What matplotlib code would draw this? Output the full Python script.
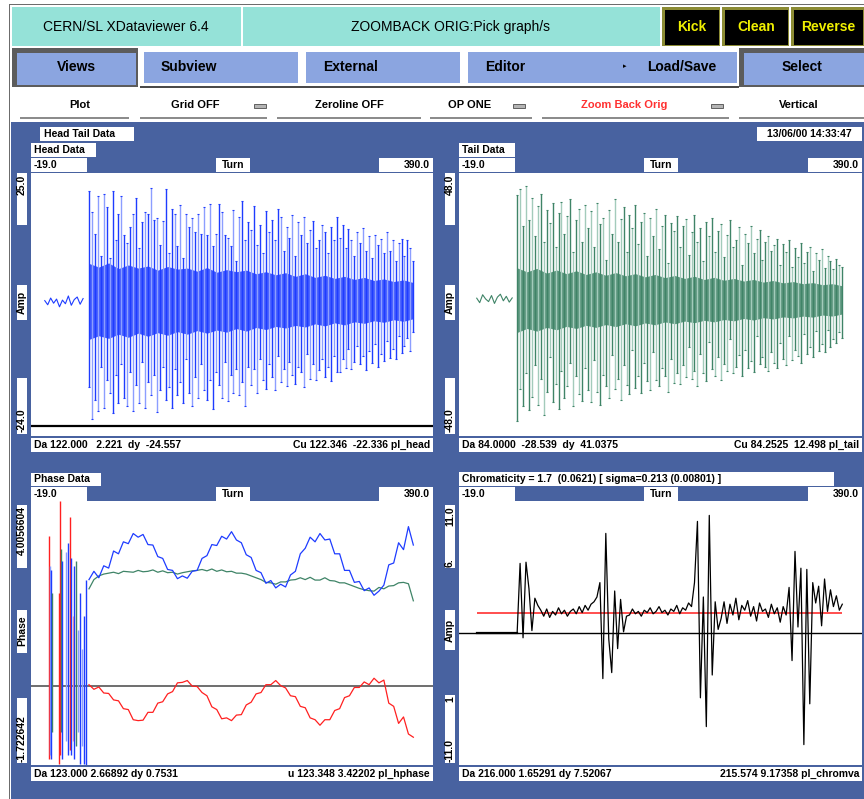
import numpy as np
import matplotlib
matplotlib.use('Agg')
import matplotlib.pyplot as plt
from matplotlib.patches import Rectangle

FONT = ['Liberation Sans', 'DejaVu Sans']
W, H = 864, 799

CYAN = '#95e2d8'
BTN = '#8ba5e0'
MAIN_BLUE = '#4862a0'
BLUE_D, BLUE_L = '#1e3cff', '#8c9eff'
GREEN_D, GREEN_L = '#3f8467', '#a3cbbb'
RED_D, RED_L = '#ff2020', '#ff9a9a'

# turn axis shared by all four plots
TURN_MIN, TURN_MAX = -19.0, 390.0

# ---- Head / Tail data: one trace segment every 3 turns after the kick ----
SPIKE_T0, SPIKE_STEP = 40, 3
HEAD_HI = [21.5, 17.5, 13.2, 20.6, 9.0, 20.9, 18.4, 8.5, 21.5, 12.0,
           17.0, 20.6, 13.0, 11.5, 14.5, 17.0, 20.1, 10.5, 15.5, 17.5,
           17.0, 22.1, 16.0, 16.2, 11.0,
           15.8, 21.9, 9.5, 18.0, 17.0, 10.8, 18.8, 8.5, 17.0, 14.5,
           16.2, 13.5, 17.0, 13.2, 18.4, 13.0, 19.0, 10.8, 13.2, 19.0,
           17.5, 13.0, 12.5, 10.8, 17.8, 8.0, 16.5, 19.5, 12.0, 15.5,
           14.0, 18.6, 11.0, 15.0, 9.5, 17.6, 13.5, 16.0, 12.0, 18.0,
           16.5, 10.0, 14.5, 12.5, 16.9, 9.0, 15.5, 13.0, 16.5, 11.5,
           14.0, 15.8, 10.5, 12.0, 15.0, 13.5, 9.5, 14.5, 12.0, 16.5,
           12.5, 15.0, 10.5, 14.2, 12.0, 9.0, 13.5, 11.5, 14.4, 10.0,
           12.8, 8.5, 13.0, 11.0, 12.2, 9.5, 13.5, 10.0, 12.0, 8.0,
           11.5, 12.3, 9.0, 12.0, 10.5, 8.0]
HEAD_LO = [-16.4, -22.7, -19.0, -21.0, -12.5, -20.4, -15.0, -17.5, -21.5, -14.0,
           -19.5, -12.0, -18.5, -20.0, -13.5, -21.0, -16.0, -19.5, -11.5, -20.5,
           -15.5, -18.0, -14.0, -21.2, -17.0,
           -12.5, -19.0, -16.5, -20.5, -13.0, -18.0, -15.5, -19.5, -11.0, -17.5,
           -20.0, -14.5, -18.5, -12.0, -17.0, -19.0, -15.0, -20.6, -13.5, -16.0,
           -18.5, -11.5, -19.2, -14.0, -17.5, -13.0, -18.0, -15.5, -20.0, -12.5,
           -16.0, -13.0, -17.5, -11.0, -15.0, -16.8, -12.0, -14.5, -17.0, -10.5,
           -15.5, -13.0, -16.2, -11.5, -14.0, -15.8, -12.5, -13.5, -16.5, -10.0,
           -14.8, -12.0, -15.0, -13.2, -11.0, -14.5, -12.5, -15.3, -10.5, -13.5,
           -13.5, -11.0, -12.8, -9.0, -13.0, -11.5, -8.5, -12.0, -10.5, -13.2,
           -9.5, -11.8, -8.0, -12.5, -10.0, -11.3, -7.5, -10.8, -9.0, -11.0,
           -6.5, -9.8, -8.5, -7.0, -9.5, -5.8]
TAIL_HI = [39.5, 42.0, 28.0, 43.0, 30.0, 38.5, 24.0, 35.5, 40.0, 22.0,
           34.0, 29.0, 36.5, 20.0, 33.0, 37.0, 25.0, 31.5, 38.0, 18.0,
           30.0, 34.5, 22.0, 36.0, 27.0,
           33.5, 20.0, 36.5, 28.5, 31.0, 15.0, 34.0, 25.0, 38.0, 22.0,
           30.5, 35.0, 18.0, 32.0, 27.0, 36.0, 21.0, 29.5, 33.0, 16.5,
           31.0, 24.0, 34.5, 19.0, 28.0, 32.0, 14.0, 29.0, 26.0, 31.5,
           20.0, 28.0, 30.5, 17.0, 25.5, 32.0, 22.0, 27.0, 14.5, 29.5,
           24.0, 31.0, 18.0, 26.0, 28.5, 16.0, 24.5, 30.0, 20.0, 22.5,
           27.5, 13.0, 25.0, 21.5, 28.0, 17.5, 23.0, 26.5, 15.0, 22.0,
           24.0, 18.5, 20.5, 23.0, 13.0, 21.0, 18.0, 22.5, 12.5, 19.5,
           16.0, 21.5, 14.0, 18.0, 20.0, 11.0, 17.5, 15.0, 19.0, 12.0,
           16.5, 14.5, 11.5, 15.5, 13.0, 12.5]
TAIL_LO = [-46.0, -34.0, -40.5, -28.0, -42.0, -37.0, -25.0, -40.0, -30.0, -44.0,
           -35.0, -22.0, -39.0, -32.0, -41.5, -27.0, -37.5, -33.0, -24.0, -40.5,
           -29.0, -36.0, -38.5, -26.0, -34.5,
           -39.0, -23.0, -35.0, -40.0, -28.5, -33.0, -37.5, -21.0, -34.0, -30.0,
           -38.0, -25.0, -32.5, -36.0, -19.0, -33.5, -29.0, -35.5, -24.0, -31.0,
           -34.5, -20.0, -30.5, -33.0, -26.0, -29.0, -35.0, -22.5, -31.5, -28.0,
           -32.0, -25.0, -29.5, -18.0, -30.0, -27.0, -33.0, -20.5, -28.0, -31.0,
           -16.0, -26.5, -29.0, -22.0, -30.5, -24.5, -27.0, -15.0, -28.0, -25.5,
           -21.0, -29.0, -19.0, -26.0, -23.5, -27.5, -14.0, -24.5, -22.0, -25.5,
           -27.0, -20.0, -24.0, -26.0, -16.5, -22.5, -25.0, -14.0, -23.0, -19.0,
           -21.5, -24.0, -13.0, -20.5, -18.0, -22.0, -12.0, -19.5, -17.0, -20.0,
           -11.5, -18.0, -15.0, -16.5, -12.5, -14.5]

# dense centre of the head/tail traces, every 10 turns
CORE_T0, CORE_STEP = 40, 10
HEAD_CORE_HI = [7.5, 6.8, 7.6, 6.5, 7.2, 6.6, 7.0, 6.2, 6.9, 6.4,
                6.6, 6.0, 6.7, 5.8, 6.3, 5.9, 6.2, 5.5, 5.9, 5.3,
                5.7, 5.0, 5.5, 4.8, 5.2, 4.6, 5.0, 4.4, 4.8, 4.2,
                4.5, 4.0, 4.3, 3.8]
HEAD_CORE_LO = [-7.2, -6.5, -7.0, -6.2, -6.8, -6.0, -6.6, -5.9, -6.4, -5.7,
                -6.2, -5.5, -6.0, -5.4, -5.8, -5.1, -5.6, -4.9, -5.3, -4.7,
                -5.0, -4.5, -4.8, -4.2, -4.6, -4.0, -4.4, -3.8, -4.1, -3.6,
                -3.9, -3.4, -3.7, -3.2]
TAIL_CORE_HI = [12.0, 10.5, 11.8, 10.0, 11.2, 9.8, 10.9, 9.5, 10.5, 9.2,
                10.2, 9.0, 9.8, 8.6, 9.5, 8.3, 9.1, 8.0, 8.8, 7.6,
                8.4, 7.3, 8.0, 7.0, 7.6, 6.6, 7.2, 6.3, 6.8, 6.0,
                6.4, 5.6, 6.0, 5.2]
TAIL_CORE_LO = [-12.5, -11.0, -12.0, -10.6, -11.5, -10.2, -11.0, -9.8, -10.6, -9.5,
                -10.3, -9.2, -10.0, -8.9, -9.6, -8.5, -9.2, -8.2, -8.8, -7.9,
                -8.5, -7.6, -8.1, -7.2, -7.8, -6.9, -7.4, -6.6, -7.0, -6.3,
                -6.7, -5.9, -6.3, -5.5]

# before the kick, every 3 turns
HEAD_PRE_T0 = -5
HEAD_PRE = [0.3, -0.5, 0.8, -0.2, 0.6, -0.9, 0.4, -0.3, 1.2, -0.6, 0.5, 1.0, -0.4, 0.7]
TAIL_PRE_T0 = -1
TAIL_PRE = [0.5, -1.2, 1.8, 0.2, -0.8, 1.5, -1.5, 0.9, 2.0, -0.5, 1.2, -1.0, 0.6]

# ---- Phase data, every 5 turns from turn 40 ----
PHASE_T0, PHASE_STEP = 40, 5
PHASE_BLUE = [2.30, 2.48, 2.34, 2.60, 2.55, 2.92, 2.86, 3.12, 3.08, 3.30,
              3.22, 3.28, 3.06, 3.05, 2.80, 2.76, 2.52, 2.50, 2.32, 2.38,
              2.33, 2.48, 2.50, 2.76, 2.82, 3.06, 3.04, 3.24, 3.18, 3.34,
              3.16, 3.10, 2.84, 2.78, 2.50, 2.45, 2.22, 2.28, 2.12, 2.20,
              2.14, 2.40, 2.48, 2.86, 2.98, 3.22, 3.12, 3.30, 3.16, 3.18,
              2.86, 2.86, 2.50, 2.50, 2.24, 2.26, 2.06, 2.12, 1.96, 2.05,
              2.18, 2.62, 2.66, 3.10, 2.95, 3.45, 3.05]
PHASE_GREEN = [2.10, 2.30, 2.38, 2.42, 2.44, 2.46, 2.43, 2.48, 2.47, 2.46,
               2.50, 2.47, 2.48, 2.51, 2.46, 2.49, 2.45, 2.46, 2.42, 2.45,
               2.47, 2.49, 2.50, 2.52, 2.49, 2.53, 2.48, 2.51, 2.47, 2.48,
               2.44, 2.44, 2.42, 2.38, 2.34, 2.30, 2.24, 2.23, 2.20, 2.25,
               2.25, 2.29, 2.30, 2.34, 2.30, 2.35, 2.29, 2.29, 2.34, 2.28,
               2.27, 2.23, 2.23, 2.19, 2.15, 2.11, 2.08, 2.06, 2.05, 2.13,
               2.10, 2.16, 2.17, 2.23, 2.24, 2.21, 1.84]
PHASE_RED = [0.02, -0.08, -0.03, -0.16, -0.17, -0.31, -0.33, -0.50, -0.52, -0.74,
             -0.76, -0.75, -0.58, -0.58, -0.38, -0.35, -0.18, -0.13, 0.06, 0.07,
             0.11, -0.01, -0.02, -0.15, -0.22, -0.46, -0.52, -0.72, -0.70, -0.76,
             -0.64, -0.63, -0.42, -0.36, -0.18, -0.15, 0.02, 0.02, 0.11, 0.00,
             -0.05, -0.22, -0.24, -0.45, -0.48, -0.70, -0.74, -0.86, -0.74, -0.74,
             -0.54, -0.50, -0.26, -0.22, -0.04, -0.04, 0.08, 0.02, 0.16, 0.06,
             0.12, -0.38, -0.45, -0.82, -0.68, -1.05, -1.12]
# unsettled phase values before the kick
CHAOS_T = [-1, 0, 1, 2, 9, 11, 12, 13, 17, 19, 21, 22, 24, 25, 27, 29, 31, 33, 35, 37]
CHAOS_LO = [-1.6, -1.5, -1.6, -1.0, -1.7, -1.5, -1.0, -1.6, -1.2, -1.5,
            -1.4, -1.5, -1.2, -1.6, -1.3, -1.0, -1.7, -1.3, -1.7, -1.72]
CHAOS_HI = [3.25, 2.6, 2.5, 2.0, 2.0, 4.0, 2.97, 2.7, 2.9, 3.1,
            3.66, 2.77, 1.5, 2.6, 2.7, 1.2, 2.0, 0.8, 1.5, 2.3]
CHAOS_SERIES = ['r', 'bl', 'b', 'g', 'r', 'r', 'g', 'b', 'bl', 'b',
                'r', 'b', 'rl', 'b', 'g', 'bl', 'b', 'bl', 'b', 'b']

# ---- Chromaticity trace, every 3 turns from turn 40 ----
CHROMA_T0, CHROMA_STEP = 40, 3
CHROMA = [0.0, 5.8, -0.4, 5.9, 3.7, 0.2, 2.9, 2.3,
          1.9, 1.4, 2.0, 1.3, 1.8, 1.5, 2.1, 1.6, 1.9, 1.4, 1.8, 2.0, 1.6, 2.2, 1.7, 2.3, 1.9, 2.4, 2.6,
          3.0, 4.2, -3.8, 8.3, -0.5, -3.3, 3.5, -1.3, 2.8, 0.1, 1.4,
          1.5, 2.0, 1.6, 1.8, 1.4, 1.9, 1.7, 2.1, 1.6, 1.8, 2.2, 1.7, 1.9, 1.5, 2.0, 1.8, 2.3, 1.6,
          2.1, 1.9, 2.5, 2.2,
          4.2, 9.3, -5.4, 3.0, -7.8, 9.8, -3.5, 2.6, 0.3,
          1.2, 2.6, 0.8, 2.4, 1.5, 2.9, 1.1, 2.3, 1.9, 2.7, 1.4, 2.2, 1.0, 2.5, 1.8, 2.0, 1.3, 2.4,
          1.6, 2.1, 0.9, 2.2, 1.5,
          3.8, -2.3, 6.8, 0.5, 5.4, -9.3, 5.3, -5.9, 4.2,
          2.5, 3.9, 0.6, 4.5, 1.8, 3.6, 2.2, 3.1, 1.9, 2.4]
CHROMA_FLAT_T = [-1, 40]
CHROMA_FLAT = [0.0, 0.0]
CHROMA_VALUE = 1.7
CHROMA_FIT_T = [-1, 370]


fig = plt.figure(figsize=(W / 100, H / 100), dpi=100)
fig.patch.set_facecolor('white')


def box(x0, y0, x1, y1, fc, ec='none', lw=0.0):
    fig.patches.append(Rectangle((x0 / W, 1 - y1 / H), (x1 - x0) / W, (y1 - y0) / H,
                                 transform=fig.transFigure, facecolor=fc,
                                 edgecolor=ec, linewidth=lw, zorder=-1))


def txt(x, y, s, size=7.5, ha='left', va='center', color='black', weight='bold', rot=0):
    fig.text(x / W, 1 - y / H, s, ha=ha, va=va, fontsize=size, color=color,
             fontweight=weight, rotation=rot, family=FONT)


def plot_axes(x0, y0, x1, y1, ylim):
    ax = fig.add_axes([x0 / W, 1 - y1 / H, (x1 - x0) / W, (y1 - y0) / H])
    ax.set_xlim(TURN_MIN, TURN_MAX)
    ax.set_ylim(*ylim)
    ax.set_xticks([])
    ax.set_yticks([])
    for s in ax.spines.values():
        s.set_visible(False)
    return ax


def panel_header(x0, x1, y0, turn_x):
    # "-19.0 .... Turn .... 390.0" strip above a plot
    box(x0, y0, x0 + 56, y0 + 14, 'white')
    txt(x0 + 3, y0 + 7, '-19.0')
    box(turn_x - 17, y0, turn_x + 17, y0 + 14, 'white')
    txt(turn_x, y0 + 7, 'Turn', ha='center')
    box(x1 - 54, y0, x1, y0 + 14, 'white')
    txt(x1 - 3, y0 + 7, '390.0', ha='right')


def footer(x0, x1, y0, left, right):
    box(x0, y0, x1, y0 + 14, 'white')
    txt(x1 - 3, y0 + 7, right, ha='right')
    txt(x0 + 3, y0 + 7, left)


def draw_bunch(ax, pre_t0, pre, hi, lo, core_hi, core_lo, dark, light):
    t_pre = pre_t0 + SPIKE_STEP * np.arange(len(pre))
    ax.plot(t_pre, pre, color=dark, lw=0.8)
    t = SPIKE_T0 + SPIKE_STEP * np.arange(len(hi))
    hi = np.asarray(hi)
    lo = np.asarray(lo)
    ax.vlines(t[1::2], lo[1::2], hi[1::2], colors=light, lw=1.0)
    ax.vlines(t[::2], lo[::2], hi[::2], colors=dark, lw=1.0)
    ax.plot(t, hi, ls='none', marker='_', ms=2.0, mew=0.8, color=dark)
    ax.plot(t, lo, ls='none', marker='_', ms=2.0, mew=0.8, color=dark)
    t_core = CORE_T0 + CORE_STEP * np.arange(len(core_hi))
    ax.fill_between(t_core, core_lo, core_hi, color=dark, lw=0, alpha=0.85)


# ---- window chrome ----
box(9, 4, 864, 5, '#6c6c6c')
box(9, 4, 10, 799, '#6c6c6c')

box(12, 7, 241, 46, CYAN)
txt(126, 27, 'CERN/SL XDataviewer 6.4', size=10, ha='center', weight='normal')
box(243, 7, 660, 46, CYAN)
txt(451, 27, 'ZOOMBACK ORIG:Pick graph/s', size=10, ha='center', weight='normal')
for x0, x1, name in [(662, 720, 'Kick'), (722, 789, 'Clean'), (791, 864, 'Reverse')]:
    box(x0, 7, x1, 46, '#8c8c34')
    box(x0 + 3, 10, x1 - 1, 45, 'black')
    txt((x0 + x1) / 2 + 1, 27, name, size=10, ha='center', color='#f0f000')

box(12, 48, 138, 87, '#5c5c5c')
box(17, 53, 136, 85, BTN)
txt(76, 67, 'Views', size=10, ha='center')
box(144, 52, 298, 83, BTN)
txt(161, 67, 'Subview', size=10)
box(306, 52, 460, 83, BTN)
txt(323, 67, 'External', size=10)
box(468, 52, 737, 83, BTN)
txt(485, 67, 'Editor', size=10)
txt(623, 67, '▸', size=5)
txt(647, 67, 'Load/Save', size=10)
box(739, 48, 864, 87, '#5c5c5c')
box(744, 53, 864, 85, BTN)
txt(802, 67, 'Select', size=10, ha='center')
box(140, 86, 739, 88, '#4a4a4a')

MENU_ITEMS = ['Plot', 'Grid OFF', 'Zeroline OFF', 'OP ONE', 'Zoom Back Orig', 'Vertical']
menu_x = [80, 195, 349, 470, 624, 799]
menu_span = [(20, 129), (140, 267), (277, 421), (430, 532), (542, 729), (739, 864)]
menu_toggle = [None, 254, None, 513, 711, None]
menu_color = ['black', 'black', 'black', 'black', '#ff3030', 'black']
for name, cx, (u0, u1), tg, c in zip(MENU_ITEMS, menu_x, menu_span, menu_toggle, menu_color):
    txt(cx, 105, name, size=8, ha='center', color=c)
    box(u0, 117, u1, 119, '#8c8c8c')
    if tg is not None:
        box(tg, 104, tg + 12, 108, '#b4b4b4', ec='#303030', lw=0.5)

box(11, 122, 864, 799, MAIN_BLUE)

# ---- Head Data ----
box(40, 127, 134, 141, 'white')
txt(44, 134, 'Head Tail Data')
box(31, 143, 96, 157, 'white')
txt(34, 150, 'Head Data')
panel_header(31, 433, 158, 233)
ax = plot_axes(31, 173, 433, 436, (-25.9, 25.0))
draw_bunch(ax, HEAD_PRE_T0, HEAD_PRE, HEAD_HI, HEAD_LO, HEAD_CORE_HI, HEAD_CORE_LO, BLUE_D, BLUE_L)
ax.axhline(-24.0, color='black', lw=1.6)
footer(31, 433, 438, 'Da 122.000   2.221  dy  -24.557', 'Cu 122.346  -22.336 pl_head')
box(17, 173, 27, 225, 'white')
txt(22, 175, '25.0', rot=90, ha='center', va='top')
box(17, 285, 27, 320, 'white')
txt(22, 302, 'Amp', rot=90, ha='center')
box(17, 378, 27, 434, 'white')
txt(22, 432, '-24.0', rot=90, ha='center', va='bottom')

# ---- Tail Data ----
box(757, 127, 862, 141, 'white')
txt(809, 134, '13/06/00 14:33:47', ha='center')
box(459, 143, 515, 157, 'white')
txt(462, 150, 'Tail Data')
panel_header(459, 862, 158, 661)
ax = plot_axes(459, 173, 862, 436, (-51.8, 48.0))
draw_bunch(ax, TAIL_PRE_T0, TAIL_PRE, TAIL_HI, TAIL_LO, TAIL_CORE_HI, TAIL_CORE_LO, GREEN_D, GREEN_L)
footer(459, 862, 438, 'Da 84.0000  -28.539  dy  41.0375', 'Cu 84.2525  12.498 pl_tail')
box(445, 173, 455, 225, 'white')
txt(450, 175, '48.0', rot=90, ha='center', va='top')
box(445, 285, 455, 320, 'white')
txt(450, 302, 'Amp', rot=90, ha='center')
box(445, 378, 455, 434, 'white')
txt(450, 432, '-48.0', rot=90, ha='center', va='bottom')

# ---- Phase Data ----
box(31, 473, 101, 486, 'white')
txt(34, 479.5, 'Phase Data')
panel_header(31, 433, 487, 233)
ax = plot_axes(31, 501, 433, 765, (-1.722642, 4.0056604))
ax.axhline(0.0, color='#555555', lw=1.2)
chaos_colors = {'r': RED_D, 'rl': RED_L, 'b': BLUE_D, 'bl': BLUE_L, 'g': GREEN_D}
ax.vlines(CHAOS_T, CHAOS_LO, CHAOS_HI, colors=[chaos_colors[k] for k in CHAOS_SERIES], lw=1.0)
t_ph = PHASE_T0 + PHASE_STEP * np.arange(len(PHASE_BLUE))
ax.plot(t_ph, PHASE_GREEN, color=GREEN_D, lw=0.9)
ax.plot(t_ph, PHASE_BLUE, color=BLUE_D, lw=0.9)
ax.plot(t_ph, PHASE_RED, color=RED_D, lw=0.9)
footer(31, 433, 767, 'Da 123.000 2.66892 dy 0.7531', 'u 123.348 3.42202 pl_hphase')
box(17, 505, 27, 568, 'white')
txt(22, 506, '4.0056604', rot=90, ha='center', va='top')
box(17, 610, 27, 653, 'white')
txt(22, 631, 'Phase', rot=90, ha='center')
box(17, 698, 27, 763, 'white')
txt(22, 762, '-1.722642', rot=90, ha='center', va='bottom')

# ---- Chromaticity ----
box(459, 472, 834, 486, 'white')
txt(462, 479, 'Chromaticity = 1.7  (0.0621) [ sigma=0.213 (0.00801) ]')
panel_header(459, 862, 487, 661)
ax = plot_axes(459, 501, 862, 765, (-11.0, 11.0))
ax.axhline(0.0, color='black', lw=1.0)
ax.hlines(CHROMA_VALUE, CHROMA_FIT_T[0], CHROMA_FIT_T[1], color='#ff3030', lw=1.2)
ax.plot(CHROMA_FLAT_T, CHROMA_FLAT, color='black', lw=1.6)
t_ch = CHROMA_T0 + CHROMA_STEP * np.arange(len(CHROMA))
ax.plot(t_ch, CHROMA, color='black', lw=0.9)
footer(459, 862, 767, 'Da 216.000 1.65291 dy 7.52067', '215.574 9.17358 pl_chromva')
box(445, 505, 455, 568, 'white')
txt(450, 506, '11.0', rot=90, ha='center', va='top')
txt(450, 567, '6.', rot=90, ha='center', va='bottom')
box(445, 610, 455, 650, 'white')
txt(450, 630, 'Amp', rot=90, ha='center')
box(445, 695, 455, 763, 'white')
txt(450, 696, '1', rot=90, ha='center', va='top')
txt(450, 762, '-11.0', rot=90, ha='center', va='bottom')

fig.savefig('out.png', dpi=100)
